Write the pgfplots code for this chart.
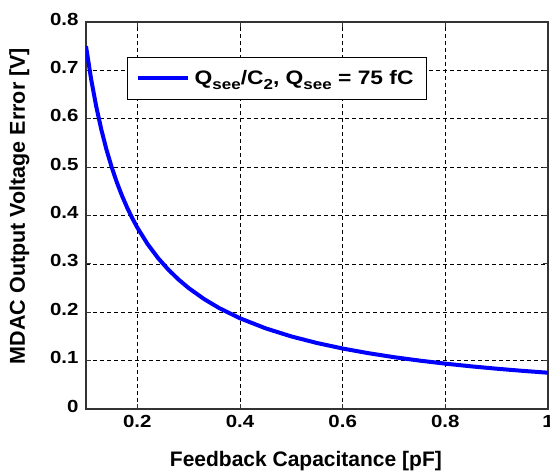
\documentclass[border=0pt]{standalone}
\usepackage{pgfplots}
\pgfplotsset{compat=1.18}
\usepackage{fontspec}
\setmainfont{Liberation Sans}
\newfontfamily\tickfont[FakeStretch=1.17]{Liberation Sans}
\newfontfamily\legfont[FakeStretch=1.17]{Liberation Sans}
\newcommand{\sub}[1]{{\fontsize{14.5}{16}\selectfont\raisebox{-4.5pt}{#1}}}
\begin{document}
\begin{tikzpicture}
\useasboundingbox (-86pt,-62pt) rectangle (464pt,409pt);
\begin{axis}[
  at={(0pt,0pt)}, anchor=south west,
  scale only axis,
  width=462pt, height=387pt,
  xmin=0.1, xmax=1, ymin=0, ymax=0.8,
  xtick={0.2,0.4,0.6,0.8,1},
  xticklabels={0.2,0.4,0.6,0.8,1},
  ytick={0,0.1,0.2,0.3,0.4,0.5,0.6,0.7,0.8},
  yticklabels={0,0.1,0.2,0.3,0.4,0.5,0.6,0.7,0.8},
  /pgf/number format/assume math mode=true,
  tick label style={font=\tickfont\bfseries\fontsize{17.5}{20}\selectfont},
  xticklabel style={yshift=-3pt},
  yticklabel style={xshift=-4pt, yshift=3pt},
  xlabel={Feedback Capacitance [pF]},
  ylabel={MDAC Output Voltage Error [V]},
  xlabel style={font=\bfseries\fontsize{21}{24}\selectfont, at={(axis description cs:0.476,-0.1357)}, anchor=center},
  ylabel style={font=\bfseries\fontsize{21.5}{24}\selectfont, at={(axis description cs:-0.144,0.5245)}, anchor=center, rotate=0},
  grid=major,
  major grid style={dash pattern=on 4pt off 3pt, black, line width=0.6pt},
  axis line style={line width=1.2pt, black!80},
  tick style={black!80, line width=0.8pt},
  tick align=inside,
  major tick length=5pt,
  xtick pos=both, ytick pos=both,
  legend style={at={(0.0895,0.9096)}, anchor=north west, draw=black, line width=0.8pt,
    font=\legfont\bfseries\fontsize{19.5}{22}\selectfont, inner xsep=8pt, inner ysep=11pt,
    nodes={inner xsep=5pt}},
  legend cell align=left,
  legend image code/.code={\draw[#1, line width=4pt] (0pt,0pt) -- (50pt,0pt);},
]
\addplot[blue, line width=4pt] coordinates {
(0.10,0.75) (0.11,0.6818) (0.12,0.625) (0.13,0.5769) (0.14,0.5357) (0.15,0.5)
(0.16,0.46875) (0.17,0.4412) (0.18,0.4167) (0.19,0.3947) (0.20,0.375)
(0.22,0.3409) (0.24,0.3125) (0.26,0.2885) (0.28,0.2679) (0.30,0.25)
(0.33,0.2273) (0.36,0.2083) (0.40,0.1875) (0.45,0.1667) (0.50,0.15)
(0.55,0.1364) (0.60,0.125) (0.65,0.1154) (0.70,0.1071) (0.75,0.1)
(0.80,0.09375) (0.85,0.0882) (0.90,0.0833) (0.95,0.0789) (1.00,0.075)
};
\addlegendentry{Q\sub{see}/C\sub{2}, Q\sub{see} = 75 fC}
\end{axis}
\end{tikzpicture}
\end{document}
